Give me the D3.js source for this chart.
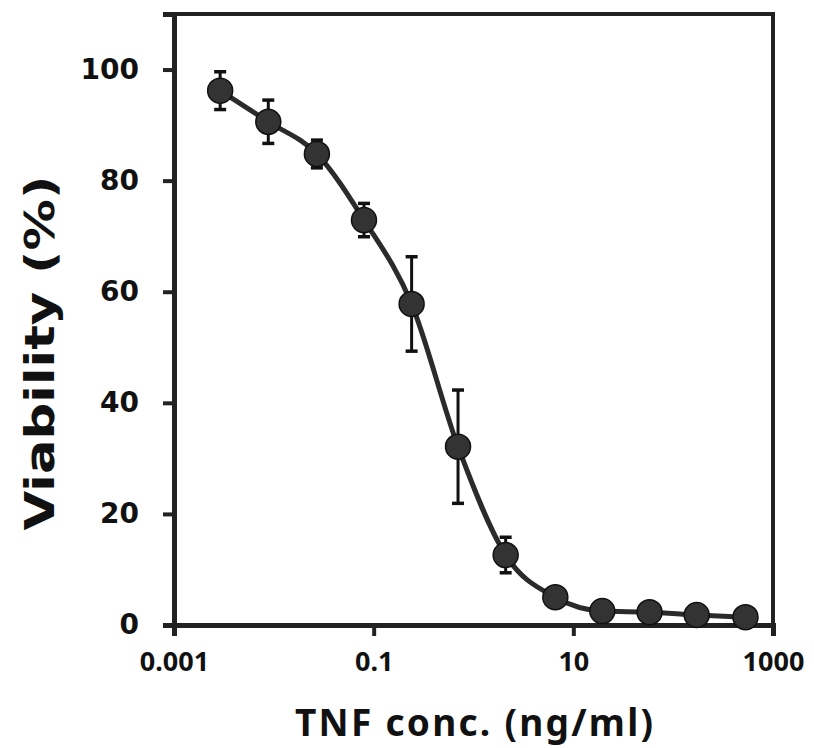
<!DOCTYPE html>
<html>
<head>
<meta charset="utf-8">
<script src="https://cdn.jsdelivr.net/npm/d3@7"></script>
<style>
  body { margin: 0; background: #fff; }
  svg { display: block; }
</style>
</head>
<body>
<div id="chart"></div>
<script>
// TNF concentration (ng/ml)
var conc = [0.0029, 0.0088, 0.027, 0.080, 0.24, 0.70, 2.1, 6.6, 19.5, 58, 172, 530];
// viability (%) and the error bar half-widths
var viability = [96.2, 90.6, 84.8, 72.9, 57.8, 32.1, 12.6, 5.0, 2.5, 2.3, 1.8, 1.4];
var errs = [3.4, 3.9, 2.5, 3.0, 8.5, 10.2, 3.2, 0, 0, 0, 0, 0];
var xTicks = [0.001, 0.1, 10, 1000];
var xTickLabels = ["0.001", "0.1", "10", "1000"];
var yTicks = [0, 20, 40, 60, 80, 100];

var W = 814, H = 748;
var margin = { top: 14, right: 41, bottom: 123, left: 174 };
var width = W - margin.left - margin.right,
    height = H - margin.top - margin.bottom;

var data = conc.map(function (c, i) {
  return { x: c, y: viability[i], e: errs[i] };
});

var svg = d3.select("#chart").append("svg")
  .attr("width", W).attr("height", H);
var g = svg.append("g")
  .attr("transform", "translate(" + margin.left + "," + margin.top + ")");

var x = d3.scaleLog().domain([0.001, 1000]).range([0, width]);
var y = d3.scaleLinear().domain([0, 110]).range([height, 0]);

// frame
g.append("rect")
  .attr("x", 0).attr("y", 0)
  .attr("width", width).attr("height", height)
  .attr("fill", "none").attr("stroke", "#222").attr("stroke-width", 4);

// axes
var yAxis = d3.axisLeft(y).tickValues(yTicks).tickSize(11).tickPadding(24);
var xAxis = d3.axisBottom(x).tickValues(xTicks).tickSize(11).tickPadding(16)
  .tickFormat(function (d, i) { return xTickLabels[i]; });

var gy = g.append("g").call(yAxis);
gy.select(".domain").attr("stroke", "#222").attr("stroke-width", 5);
gy.selectAll(".tick line").attr("stroke", "#222").attr("stroke-width", 4);
gy.selectAll(".tick text")
  .attr("fill", "#111")
  .style("font-family", "'DejaVu Sans', Verdana, sans-serif")
  .style("font-weight", "bold")
  .style("font-size", "28px");

var gx = g.append("g").attr("transform", "translate(0," + height + ")").call(xAxis);
gx.select(".domain").attr("stroke", "#222").attr("stroke-width", 5);
gx.selectAll(".tick line").attr("stroke", "#222").attr("stroke-width", 4);
gx.selectAll(".tick text")
  .attr("fill", "#111")
  .style("font-family", "'Noto Sans', sans-serif")
  .style("font-weight", "bold")
  .style("font-size", "27px");

// error bars
var eb = g.append("g").selectAll("g.err").data(data.filter(function (d) { return d.e > 0; }))
  .enter().append("g").attr("class", "err");
eb.append("line")
  .attr("x1", function (d) { return x(d.x); }).attr("x2", function (d) { return x(d.x); })
  .attr("y1", function (d) { return y(d.y + d.e); }).attr("y2", function (d) { return y(d.y - d.e); })
  .attr("stroke", "#111").attr("stroke-width", 3);
[1, -1].forEach(function (s) {
  eb.append("line")
    .attr("x1", function (d) { return x(d.x) - 6; }).attr("x2", function (d) { return x(d.x) + 6; })
    .attr("y1", function (d) { return y(d.y + s * d.e); }).attr("y2", function (d) { return y(d.y + s * d.e); })
    .attr("stroke", "#111").attr("stroke-width", 3.5);
});

// fitted curve
var line = d3.line()
  .x(function (d) { return x(d.x); })
  .y(function (d) { return y(d.y); })
  .curve(d3.curveMonotoneX);
g.append("path").datum(data)
  .attr("d", line)
  .attr("fill", "none").attr("stroke", "#2b2b2b").attr("stroke-width", 5);

// markers
g.append("g").selectAll("circle").data(data).enter().append("circle")
  .attr("cx", function (d) { return x(d.x); })
  .attr("cy", function (d) { return y(d.y); })
  .attr("r", 12.5)
  .attr("fill", "#333").attr("stroke", "#111").attr("stroke-width", 1.5);

// axis titles
svg.append("text")
  .attr("transform", "translate(54,353) rotate(-90)")
  .attr("text-anchor", "middle")
  .attr("fill", "#111")
  .attr("textLength", 355).attr("lengthAdjust", "spacingAndGlyphs")
  .style("font-family", "'DejaVu Sans', Verdana, sans-serif")
  .style("font-weight", "bold")
  .style("font-size", "40px")
  .text("Viability (%)");

svg.append("text")
  .attr("x", 474).attr("y", 736)
  .attr("text-anchor", "middle")
  .attr("fill", "#111")
  .attr("textLength", 358).attr("lengthAdjust", "spacing")
  .style("font-family", "'Noto Sans', sans-serif")
  .style("font-weight", "bold")
  .style("font-size", "37px")
  .text("TNF conc. (ng/ml)");
</script>
</body>
</html>
